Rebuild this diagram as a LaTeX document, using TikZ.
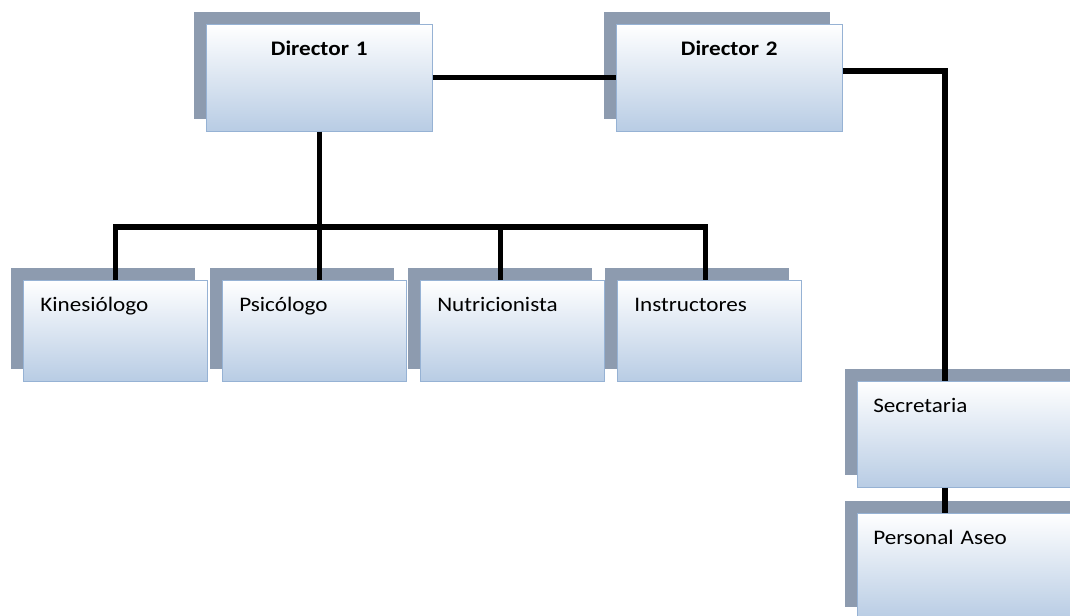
\documentclass[tikz,border=0pt]{standalone}
\usepackage{fontspec}
\newfontfamily\boxfont{Carlito}[FakeStretch=1.12]
\usepackage{tikz}
\usetikzlibrary{shadows, positioning, calc}

\definecolor{shadowgray}{RGB}{141,155,175}
\definecolor{boxblue}{RGB}{184,204,228}
\definecolor{boxline}{RGB}{150,178,212}

\begin{document}
\begin{tikzpicture}[
        x=0.75pt, y=-0.75pt,
        box/.style={draw=boxline, top color=white, bottom color=boxblue,
            anchor=north west, inner ysep=0pt, text height=23.25pt,
            font=\boxfont\fontsize{15.5pt}{18pt}\selectfont,
            general shadow={fill=shadowgray, shadow xshift=-9pt, shadow yshift=9pt}},
        dirbox/.style={box, inner xsep=0pt, text width=169.5pt, align=center,
            text depth=57pt, font=\boxfont\bfseries\fontsize{15.5pt}{18pt}\selectfont},
        staffbox/.style={box, inner xsep=12.75pt, text width=112.5pt, align=left, text depth=52.5pt},
        sidebox/.style={box, inner xsep=12pt, text width=190pt, align=left, text depth=56.25pt},
        conn/.style={line width=4pt, black},
    ]
        \useasboundingbox (0,0) rectangle (1070,615);

        % Directors
        \node[dirbox] (dir1) at (206,24) {Director 1};
        \node[dirbox] (dir2) at (616,24) {Director 2};

        % Staff under Director 1
        \node[staffbox] (kine) at (23,280) {Kinesiólogo};
        \node[staffbox] (psi) at (222,280) {Psicólogo};
        \node[staffbox] (nutri) at (420,280) {Nutricionista};
        \node[staffbox] (instr) at (617,280) {Instructores};

        % Staff under Director 2
        \node[sidebox] (sec) at (857,381) {Secretaria};
        \node[sidebox] (aseo) at (857,513) {Personal Aseo};

        % Connectors
        \coordinate (bus) at (0,227);
        \coordinate (rbus) at (945,71);
        \draw[conn] (dir1) -- (dir2);
        \draw[conn] (dir1.south) -- (dir1.south |- bus);
        \draw[conn] (kine.north) -- (kine.north |- bus) -- ([xshift=-3pt]instr.north |- bus) -- ([xshift=-3pt]instr.north);
        \draw[conn] ([xshift=4pt]psi.north) -- ([xshift=4pt]psi.north |- bus);
        \draw[conn] ([xshift=-9pt]nutri.north) -- ([xshift=-9pt]nutri.north |- bus);
        \draw[conn] (dir2.east |- rbus) -- (rbus) -- (rbus |- sec.north);
        \draw[conn] (rbus |- sec.south) -- (rbus |- aseo.north);
    \end{tikzpicture}
\end{document}
